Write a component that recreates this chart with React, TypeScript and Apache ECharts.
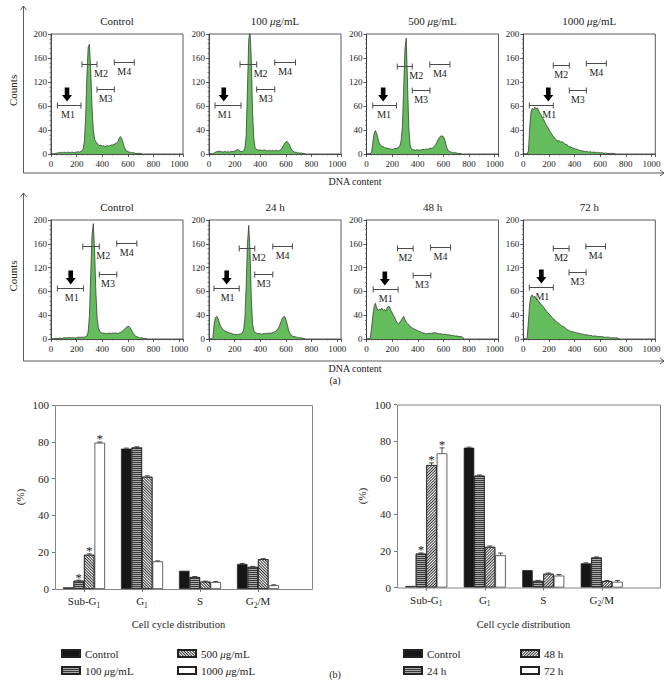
import React, { useEffect, useRef } from 'react';
import * as echarts from 'echarts';

const FONT = '"Liberation Serif", "DejaVu Serif", serif';
const GREEN = '#64bc5c';

// ---------------- Flow-cytometry histograms (panel a) ----------------
const binWidth = 10; // DNA-content channel step of the count arrays below
const yTickLabels = ['0', '40', '60', '120', '160', '200'];
const gateLabels = ['M1', 'M2', 'M3', 'M4'];

const topTitles = ['Control', '100 μg/mL', '500 μg/mL', '1000 μg/mL'];
const bottomTitles = ['Control', '24 h', '48 h', '72 h'];

const countsControlA = [
  0, 0, 0, 0, 1, 2, 2, 2, 3, 2,
  3, 3, 2, 3, 3, 2, 3, 3, 2, 3,
  3, 4, 3, 4, 5, 8, 20, 60, 130, 178,
  183, 140, 80, 40, 25, 20, 18, 15, 14, 15,
  13, 14, 12, 13, 14, 13, 14, 15, 15, 16,
  17, 18, 20, 25, 29, 27, 20, 13, 8, 5,
  4, 3, 3, 2, 2, 2, 1, 1, 1, 1,
  1, 0,
];
const counts100 = [
  0, 0, 0, 0, 2, 3, 4, 4, 5, 4,
  4, 3, 4, 4, 3, 4, 3, 4, 4, 4,
  5, 6, 7, 7, 5, 4, 4, 5, 10, 30,
  110, 190, 205, 160, 70, 25, 10, 8, 7, 6,
  7, 6, 6, 7, 6, 6, 5, 6, 6, 5,
  6, 5, 6, 6, 5, 6, 7, 10, 14, 18,
  20, 21, 18, 14, 9, 6, 4, 3, 3, 2,
  2, 1, 2, 1, 1, 0,
];
const counts500 = [
  0, 0, 0, 0, 3, 20, 35, 39, 34, 25,
  18, 15, 13, 12, 11, 10, 10, 9, 9, 8,
  8, 8, 9, 9, 10, 11, 14, 22, 45, 110,
  175, 193, 120, 45, 15, 9, 7, 7, 6, 7,
  7, 6, 7, 7, 8, 7, 8, 8, 8, 9,
  10, 9, 11, 13, 16, 20, 25, 28, 30, 30,
  29, 24, 16, 9, 5, 4, 3, 3, 2, 2,
  2, 1, 1, 1, 0,
];
const counts1000 = [
  0, 0, 0, 0, 5, 45, 70, 76, 74, 78,
  75, 77, 72, 68, 65, 60, 57, 52, 48, 45,
  40, 37, 34, 30, 28, 25, 23, 22, 22, 20,
  21, 19, 18, 16, 16, 13, 12, 12, 10, 10,
  9, 8, 8, 7, 6, 6, 5, 5, 4, 4,
  4, 3, 4, 3, 3, 3, 3, 2, 3, 2,
  2, 2, 2, 1, 2, 1, 1, 1, 1, 1,
  1, 1, 0,
];
const countsControlB = [
  0, 0, 0, 1, 1, 1, 1, 2, 1, 1,
  2, 2, 2, 2, 3, 2, 2, 2, 2, 2,
  2, 3, 3, 3, 3, 3, 3, 4, 5, 12,
  40, 110, 175, 194, 150, 80, 35, 18, 13, 11,
  10, 10, 9, 10, 9, 10, 10, 9, 10, 10,
  10, 10, 9, 10, 11, 12, 14, 16, 18, 20,
  21, 21, 18, 14, 10, 7, 5, 4, 3, 2,
  2, 2, 1, 1, 1, 0,
];
const counts24h = [
  0, 0, 0, 2, 25, 36, 38, 35, 28, 22,
  18, 16, 14, 13, 12, 11, 10, 10, 9, 8,
  8, 8, 7, 8, 8, 9, 10, 15, 35, 90,
  160, 191, 150, 70, 25, 14, 11, 10, 9, 9,
  9, 8, 9, 9, 9, 10, 9, 10, 10, 10,
  11, 12, 13, 15, 18, 22, 28, 34, 37, 38,
  33, 25, 16, 10, 7, 5, 4, 4, 3, 3,
  2, 2, 2, 1, 1, 0,
];
const counts48h = [
  0, 0, 0, 2, 20, 40, 55, 60, 52, 48,
  50, 49, 52, 48, 50, 47, 52, 55, 54, 48,
  44, 40, 36, 31, 27, 25, 28, 31, 35, 38,
  33, 28, 26, 24, 21, 20, 18, 17, 16, 15,
  14, 13, 12, 11, 10, 10, 9, 9, 9, 10,
  9, 10, 10, 11, 10, 10, 9, 9, 9, 8,
  8, 8, 8, 7, 7, 7, 6, 6, 6, 5,
  5, 5, 4, 4, 4, 3, 0,
];
const counts72h = [
  0, 0, 0, 2, 30, 60, 72, 74, 70, 72,
  68, 66, 64, 60, 58, 56, 53, 50, 47, 45,
  42, 40, 37, 35, 33, 31, 29, 27, 26, 24,
  22, 21, 20, 18, 16, 15, 14, 13, 12, 12,
  11, 11, 10, 10, 9, 9, 8, 8, 7, 7,
  7, 6, 6, 6, 5, 5, 5, 5, 4, 4,
  4, 4, 4, 3, 3, 3, 3, 3, 2, 2,
  2, 2, 2, 2, 1, 0,
];

// gates M1..M4: [start channel, end channel, level]
const gatesControlA = [[50, 234, 82], [242, 359, 150], [359, 494, 108], [494, 650, 154]];
const gates100 = [[47, 250, 82], [242, 372, 150], [372, 513, 108], [513, 675, 153]];
const gates500 = [[49, 234, 82], [240, 357, 147], [357, 495, 106], [494, 651, 150]];
const gates1000 = [[47, 234, 82], [234, 359, 148], [359, 492, 107], [492, 648, 151]];
const gatesControlB = [[50, 253, 86], [248, 377, 156], [377, 513, 110], [513, 670, 161]];
const gates24h = [[39, 236, 86], [236, 357, 153], [357, 498, 109], [498, 651, 156]];
const gates48h = [[52, 247, 84], [242, 364, 153], [364, 502, 108], [500, 656, 155]];
const gates72h = [[47, 234, 87], [234, 357, 153], [357, 490, 113], [488, 641, 156]];

// channel pointed at by the sub-G1 arrow in each panel
const arrowChannels = [125, 115, 130, 195, 154, 138, 143, 141];

// ---------------- Cell-cycle distribution bars (panel b) ----------------
const cycleCategories = ['Sub-G1', 'G1', 'S', 'G2/M'];

const concNames = ['Control', '100 μg/mL', '500 μg/mL', '1000 μg/mL'];
const concControl = [0.9, 76.3, 9.9, 13.6];
const conc100 = [4.5, 76.9, 6.5, 12.0];
const conc500 = [18.6, 61.0, 4.0, 16.2];
const conc1000 = [79.5, 15.0, 3.8, 2.0];
const concErrControl = [0, 0.3, 0, 0.3];
const concErr100 = [0.3, 0.4, 0.3, 0.3];
const concErr500 = [0.5, 0.5, 0.3, 0.3];
const concErr1000 = [0.4, 0.3, 0.3, 0.3];
const concSig = [[0, 0, 0, 0], [1, 0, 0, 0], [1, 0, 0, 0], [1, 0, 0, 0]];

const timeNames = ['Control', '24 h', '48 h', '72 h'];
const timeControl = [0.8, 76.4, 9.5, 13.2];
const time24h = [18.5, 61.1, 3.6, 16.4];
const time48h = [66.9, 22.2, 7.5, 3.5];
const time72h = [73.3, 17.6, 6.5, 3.1];
const timeErrControl = [0, 0.3, 0, 0.3];
const timeErr24h = [0.4, 0.4, 0.3, 0.3];
const timeErr48h = [1.2, 0.5, 0.4, 0.3];
const timeErr72h = [3.0, 1.2, 0.6, 0.7];
const timeSig = [[0, 0, 0, 0], [1, 0, 0, 0], [1, 0, 0, 0], [1, 0, 0, 0]];

// ---------------- layout ----------------
const HIST_LEFTS = [51, 209, 366.5, 523.3];
const HIST_W = 132;
const HIST_ROWS = [
  { top: 34, height: 120, titleY: 21, axisTop: 6, axisY: 173, labelY: 181 },
  { top: 220, height: 119, titleY: 207, axisTop: 193, axisY: 361, labelY: 368 },
];
const BAR_W = 10.5;

const italicMu = (s: string) => s.replace('μ', '{i|μ}');
const richMu = { i: { fontStyle: 'italic', fontFamily: FONT, fontSize: 11, color: '#222' } };

function gateRenderer(arrowX: number, m2Side: boolean) {
  return (params: any, api: any) => {
    const idx = params.dataIndex;
    const yv = api.value(2);
    const a = api.coord([api.value(0), yv]);
    const b = api.coord([api.value(1), yv]);
    const y = Math.round(a[1]) + 0.5;
    const ls = { stroke: '#4a4a4a', lineWidth: 1 };
    const children: any[] = [
      { type: 'line', shape: { x1: a[0], y1: y, x2: b[0], y2: y }, style: ls },
      { type: 'line', shape: { x1: a[0], y1: y - 3, x2: a[0], y2: y + 3 }, style: ls },
      { type: 'line', shape: { x1: b[0], y1: y - 3, x2: b[0], y2: y + 3 }, style: ls },
    ];
    let lx = (a[0] + b[0]) / 2;
    let align = 'center';
    if (idx === 0) lx = api.coord([arrowX, yv])[0] + 1;
    if (idx === 1 && m2Side) {
      lx = b[0] - 3;
      align = 'left';
    }
    children.push({
      type: 'text',
      x: lx,
      y: y + 4,
      style: { text: gateLabels[idx], fontSize: 10, fontFamily: FONT, fill: '#222', stroke: 'none', lineWidth: 0, align, verticalAlign: 'top' },
    });
    if (idx === 0) {
      const tx = api.coord([arrowX, yv])[0];
      const ty = y - 4;
      children.push({
        type: 'polygon',
        shape: {
          points: [
            [tx - 2.3, ty - 14], [tx + 2.3, ty - 14], [tx + 2.3, ty - 6.5], [tx + 5, ty - 6.5],
            [tx, ty], [tx - 5, ty - 6.5], [tx - 2.3, ty - 6.5],
          ],
        },
        style: { fill: '#000', stroke: 'none' },
      });
    }
    return { type: 'group', children };
  };
}

function errRenderer(params: any, api: any) {
  const c = api.value(0);
  const v = api.value(1);
  const e = api.value(2);
  const sig = api.value(3);
  const k = api.value(4);
  const base = api.coord([c, v]);
  const top = api.coord([c, v + e]);
  const x = base[0] + (k - 1.5) * BAR_W;
  const children: any[] = [];
  if (e > 0) {
    children.push({ type: 'line', shape: { x1: x, y1: base[1], x2: x, y2: top[1] }, style: { stroke: '#222', lineWidth: 0.8 } });
    children.push({ type: 'line', shape: { x1: x - 2.5, y1: top[1], x2: x + 2.5, y2: top[1] }, style: { stroke: '#222', lineWidth: 0.8 } });
  }
  if (sig) {
    children.push({
      type: 'text',
      x,
      y: top[1] - 3,
      style: { text: '*', fontSize: 13, fontFamily: FONT, fill: '#222', stroke: 'none', lineWidth: 0, align: 'center', verticalAlign: 'middle' },
    });
  }
  return { type: 'group', children };
}

function buildOption() {
  const panels = [
    { title: topTitles[0], counts: countsControlA, gates: gatesControlA, m2Side: true },
    { title: topTitles[1], counts: counts100, gates: gates100, m2Side: true },
    { title: topTitles[2], counts: counts500, gates: gates500, m2Side: true },
    { title: topTitles[3], counts: counts1000, gates: gates1000, m2Side: false },
    { title: bottomTitles[0], counts: countsControlB, gates: gatesControlB, m2Side: true },
    { title: bottomTitles[1], counts: counts24h, gates: gates24h, m2Side: true },
    { title: bottomTitles[2], counts: counts48h, gates: gates48h, m2Side: false },
    { title: bottomTitles[3], counts: counts72h, gates: gates72h, m2Side: false },
  ];

  const grid: any[] = [];
  const xAxis: any[] = [];
  const yAxis: any[] = [];
  const series: any[] = [];
  const graphic: any[] = [];

  const textEl = (text: string, x: number, y: number, size: number, extra: any = {}) => ({
    type: 'text',
    x,
    y,
    rotation: extra.rotation || 0,
    style: {
      text,
      fontSize: size,
      fontFamily: FONT,
      fill: '#222',
      align: 'center',
      verticalAlign: 'middle',
      rich: {
        i: { fontStyle: 'italic', fontSize: size, fontFamily: FONT, fill: '#222' },
        s: { fontSize: size * 0.7, fontFamily: FONT, fill: '#222', verticalAlign: 'bottom' },
      },
    },
  });

  panels.forEach((p, i) => {
    const row = HIST_ROWS[i < 4 ? 0 : 1];
    const left = HIST_LEFTS[i % 4];
    grid.push({ left, top: row.top, width: HIST_W, height: row.height, show: true, borderColor: '#333', borderWidth: 0.8 });
    xAxis.push({
      type: 'value',
      gridIndex: i,
      min: 0,
      max: 1030,
      interval: 200,
      axisLine: { show: true, lineStyle: { color: '#333', width: 0.8 } },
      axisTick: { show: true, length: 3, lineStyle: { color: '#333', width: 0.8 } },
      minorTick: { show: true, splitNumber: 5, length: 1.5, lineStyle: { color: '#555', width: 0.6 } },
      axisLabel: {
        fontSize: 9,
        fontFamily: FONT,
        color: '#222',
        margin: 5,
        formatter: (v: number) => (v % 200 === 0 && v <= 1000 ? String(v) : ''),
      },
      splitLine: { show: false },
    });
    yAxis.push({
      type: 'value',
      gridIndex: i,
      min: 0,
      max: 200,
      interval: 40,
      axisLine: { show: true, lineStyle: { color: '#333', width: 0.8 } },
      axisTick: { show: true, length: 3, lineStyle: { color: '#333', width: 0.8 } },
      minorTick: { show: true, splitNumber: 5, length: 1.5, lineStyle: { color: '#555', width: 0.6 } },
      axisLabel: {
        fontSize: 9,
        fontFamily: FONT,
        color: '#222',
        margin: 4,
        formatter: (v: number) => yTickLabels[Math.round(v / 40)] ?? '',
      },
      splitLine: { show: false },
    });
    series.push({
      type: 'line',
      xAxisIndex: i,
      yAxisIndex: i,
      data: p.counts.map((c, j) => [j * binWidth, c]),
      symbol: 'none',
      lineStyle: { color: '#2a2a2a', width: 0.7 },
      areaStyle: { color: GREEN, opacity: 1 },
      z: 2,
    });
    series.push({
      type: 'custom',
      xAxisIndex: i,
      yAxisIndex: i,
      data: p.gates,
      encode: { x: [0, 1], y: 2 },
      renderItem: gateRenderer(arrowChannels[i], p.m2Side),
      z: 3,
    });
    graphic.push(textEl(italicMu(p.title), left + HIST_W / 2, row.titleY, 11));
  });

  // frame axes with arrows + labels for panel a
  HIST_ROWS.forEach((row) => {
    graphic.push({ type: 'polyline', shape: { points: [[23.5, row.axisTop], [23.5, row.axisY], [664, row.axisY]] }, style: { stroke: '#333', lineWidth: 0.8, fill: 'none' } });
    graphic.push({ type: 'polyline', shape: { points: [[20.5, row.axisTop + 4], [23.5, row.axisTop], [26.5, row.axisTop + 4]] }, style: { stroke: '#333', lineWidth: 0.8, fill: 'none' } });
    graphic.push({ type: 'polyline', shape: { points: [[660, row.axisY - 3], [664, row.axisY], [660, row.axisY + 3]] }, style: { stroke: '#333', lineWidth: 0.8, fill: 'none' } });
    graphic.push(textEl('Counts', 13, row.top + row.height * 0.47, 11, { rotation: Math.PI / 2 }));
    graphic.push(textEl('DNA content', 355, row.labelY, 10));
  });
  graphic.push(textEl('(a)', 335, 380, 10));
  graphic.push(textEl('(b)', 335, 674, 10));

  // ---------- bar charts ----------
  const barGrids = [
    { left: 55, top: 405, width: 232, height: 184, frameW: 257 },
    { left: 397, top: 404.5, width: 234, height: 183, frameW: 263 },
  ];
  const hatch = (rot: number) => ({ symbol: 'rect', symbolSize: 1, dashArrayX: [1, 0], dashArrayY: [1, 1], rotation: rot, color: '#333' });
  const stripe = { symbol: 'rect', symbolSize: 1, dashArrayX: [1, 0], dashArrayY: [1, 1], rotation: 0, color: '#3a3a3a' };
  const styleSets = [
    [
      { color: '#161616' },
      { color: '#a8a8a8', decal: stripe },
      { color: '#ffffff', decal: hatch(Math.PI / 4) },
      { color: '#ffffff' },
    ],
    [
      { color: '#161616' },
      { color: '#a8a8a8', decal: stripe },
      { color: '#ffffff', decal: hatch(-Math.PI / 4) },
      { color: '#ffffff' },
    ],
  ];
  const barSets = [
    { names: concNames, values: [concControl, conc100, conc500, conc1000], errs: [concErrControl, concErr100, concErr500, concErr1000], sig: concSig },
    { names: timeNames, values: [timeControl, time24h, time48h, time72h], errs: [timeErrControl, timeErr24h, timeErr48h, timeErr72h], sig: timeSig },
  ];

  barGrids.forEach((g, b) => {
    const gi = 8 + b;
    grid.push({ left: g.left, top: g.top, width: g.width, height: g.height });
    xAxis.push({
      type: 'category',
      gridIndex: gi,
      data: cycleCategories,
      axisLine: { show: false },
      axisTick: { show: true, alignWithLabel: true, length: 3, lineStyle: { color: '#555', width: 0.8 } },
      axisLabel: {
        interval: 0,
        fontSize: 11,
        fontFamily: FONT,
        color: '#222',
        margin: 4,
        lineHeight: 16,
        formatter: (v: string) => v.replace(/G(\d)/, 'G{s|$1}'),
        rich: { s: { fontSize: 7.5, fontFamily: FONT, color: '#222', verticalAlign: 'bottom', lineHeight: 10 } },
      },
      splitLine: { show: false },
    });
    yAxis.push({
      type: 'value',
      gridIndex: gi,
      min: 0,
      max: 100,
      interval: 20,
      axisLine: { show: false },
      axisTick: { show: true, length: 3, lineStyle: { color: '#555', width: 0.8 } },
      axisLabel: { fontSize: 11, fontFamily: FONT, color: '#222', margin: 6 },
      splitLine: { show: false },
    });
    const set = barSets[b];
    set.values.forEach((vals, k) => {
      series.push({
        type: 'bar',
        name: set.names[k],
        xAxisIndex: gi,
        yAxisIndex: gi,
        data: vals,
        barWidth: BAR_W,
        barGap: '0%',
        itemStyle: { ...styleSets[b][k], borderColor: '#222', borderWidth: 0.7 },
        z: 2,
      });
    });
    const errData: any[] = [];
    set.values.forEach((vals, k) => {
      vals.forEach((v, c) => errData.push([c, v, set.errs[k][c], set.sig[k][c], k]));
    });
    series.push({
      type: 'custom',
      xAxisIndex: gi,
      yAxisIndex: gi,
      data: errData,
      encode: { x: 0, y: 1 },
      renderItem: errRenderer,
      itemStyle: { color: '#222' },
      z: 4,
    });
    graphic.push({
      type: 'rect',
      shape: { x: g.left + 0.5, y: g.top + 0.5, width: g.frameW, height: g.height },
      style: { fill: 'none', stroke: '#777', lineWidth: 0.9 },
      z: 10,
    });
    graphic.push(textEl('(%)', g.left - 35, g.top + g.height * 0.5, 11, { rotation: Math.PI / 2 }));
    graphic.push(textEl('Cell cycle distribution', g.left + g.frameW / 2 - 5, 624, 10.5));
  });

  const legendBase = (left: number, data: string[]) => ({
    left,
    top: 643,
    orient: 'vertical',
    data,
    icon: 'rect',
    itemWidth: 18,
    itemHeight: 7,
    itemGap: 6,
    selectedMode: false,
    formatter: (n: string) => italicMu(n),
    textStyle: { fontSize: 11, fontFamily: FONT, color: '#222', rich: richMu },
  });

  return {
    animation: false,
    backgroundColor: '#ffffff',
    textStyle: { fontFamily: FONT },
    grid,
    xAxis,
    yAxis,
    series,
    graphic,
    legend: [
      legendBase(56, [concNames[0], concNames[1]]),
      legendBase(172, [concNames[2], concNames[3]]),
      legendBase(398, [timeNames[0], timeNames[1]]),
      legendBase(515, [timeNames[2], timeNames[3]]),
    ],
  };
}

export default function App() {
  const ref = useRef<HTMLDivElement>(null);
  useEffect(() => {
    if (!ref.current) return;
    const chart = echarts.init(ref.current, null, { renderer: 'svg' });
    chart.setOption(buildOption() as any);
    return () => chart.dispose();
  }, []);
  return (
    <div
      ref={ref}
      style={{ position: 'absolute', left: 0, top: 0, width: 669, height: 684, background: '#fff' }}
    />
  );
}
